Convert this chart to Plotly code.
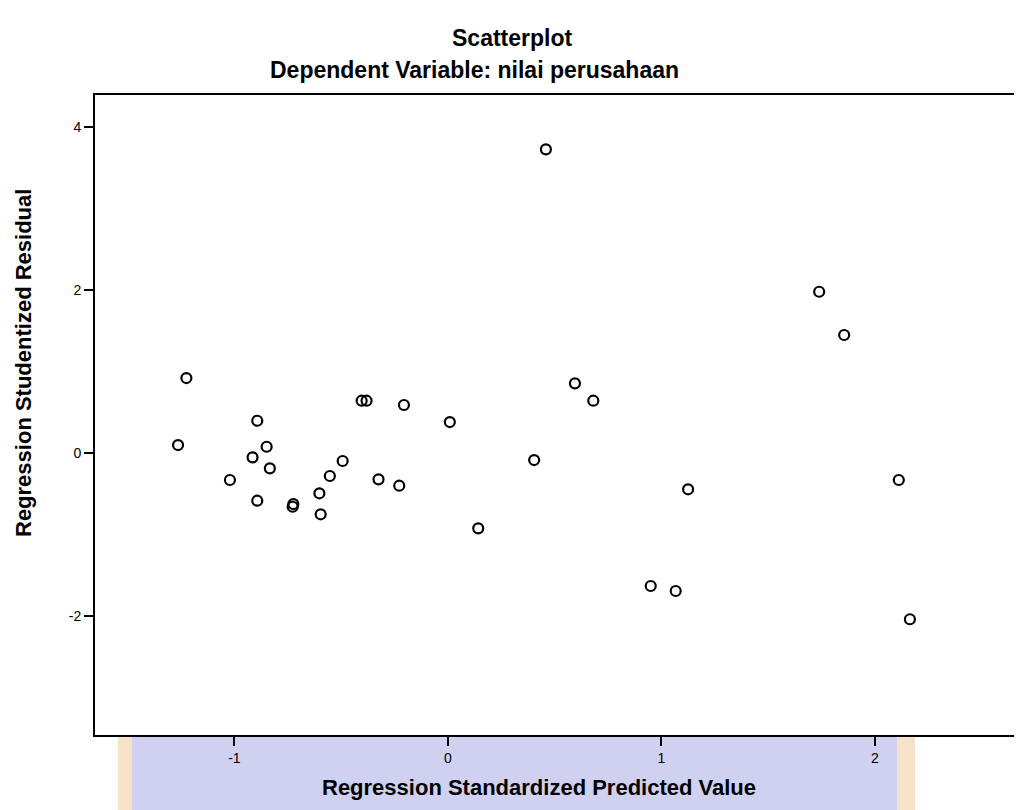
import plotly.graph_objects as go

# Regression Standardized Predicted Value
pred = [-1.264, -1.225, -0.893, -0.849, -0.915, -0.834, -1.021, -0.893,
        -0.727, -0.724, -0.602, -0.553, -0.493, -0.596, -0.404, -0.381,
        -0.206, 0.009, -0.325, -0.228, 0.404, 0.142, 0.459, 0.595,
        0.681, 1.125, 0.950, 1.067, 1.739, 1.856, 2.112, 2.164]
# Regression Studentized Residual
resid = [0.098, 0.920, 0.396, 0.077, -0.053, -0.188, -0.331, -0.585,
         -0.659, -0.626, -0.494, -0.282, -0.098, -0.752, 0.642, 0.642,
         0.589, 0.380, -0.323, -0.401, -0.086, -0.924, 3.726, 0.855,
         0.642, -0.445, -1.632, -1.693, 1.979, 1.448, -0.331, -2.040]

x_ticks = [-1, 0, 1, 2]
y_ticks = [-2, 0, 2, 4]

FONT = "Liberation Sans, Arial, sans-serif"

# plot area in figure pixels
L, T, W, H = 87, 87, 927, 640
FW, FH = 1014, 802


def px(fx):
    return (fx - L) / W


def py(fy):
    return (T + H - fy) / H


fig = go.Figure()
fig.add_trace(go.Scatter(
    x=pred, y=resid, mode="markers",
    marker=dict(symbol="circle-open", size=10, color="black",
                line=dict(width=2.2, color="black")),
    showlegend=False, hoverinfo="x+y"))

# watermark-like background below the plot
fig.add_shape(type="rect", xref="paper", yref="paper",
              x0=px(110), x1=px(907), y0=-0.2, y1=0,
              fillcolor="#f6e2c6", line=dict(width=0), layer="below")
fig.add_shape(type="rect", xref="paper", yref="paper",
              x0=px(124), x1=px(889), y0=-0.2, y1=0,
              fillcolor="#d0d1f1", line=dict(width=0), layer="below")

fig.update_layout(
    width=FW, height=FH,
    margin=dict(l=L, r=FW - L - W, t=T, b=FH - T - H),
    paper_bgcolor="white", plot_bgcolor="white",
    font=dict(family=FONT, color="black", size=12),
    annotations=[
        dict(text="<b>Scatterplot</b>", xref="paper", yref="paper",
             x=px(504), y=py(30), showarrow=False,
             font=dict(size=23, family=FONT), xanchor="center", yanchor="middle"),
        dict(text="<b>Dependent Variable: nilai perusahaan</b>", xref="paper", yref="paper",
             x=px(466), y=py(62), showarrow=False,
             font=dict(size=23, family=FONT), xanchor="center", yanchor="middle"),
        dict(text="<b>Regression Standardized Predicted Value</b>", xref="paper", yref="paper",
             x=px(531), y=py(779), showarrow=False,
             font=dict(size=22, family=FONT), xanchor="center", yanchor="middle"),
        dict(text="<b>Regression Studentized Residual</b>", xref="paper", yref="paper",
             x=px(15), y=py(355), showarrow=False, textangle=-90,
             font=dict(size=22, family=FONT), xanchor="center", yanchor="middle"),
    ],
)

fig.update_xaxes(
    range=[-1.653, 2.689], tickvals=x_ticks, ticktext=[str(v) for v in x_ticks],
    showgrid=False, zeroline=False, showline=True, linecolor="black", linewidth=2,
    mirror=True, ticks="outside", ticklen=9, tickwidth=2, tickcolor="black",
    tickfont=dict(size=14, family=FONT))
fig.update_yaxes(
    range=[-3.46, 4.393], tickvals=y_ticks, ticktext=[str(v) for v in y_ticks],
    showgrid=False, zeroline=False, showline=True, linecolor="black", linewidth=2,
    mirror=False, ticks="outside", ticklen=9, tickwidth=2, tickcolor="black",
    tickfont=dict(size=14, family=FONT))

fig.write_html("out.html")
